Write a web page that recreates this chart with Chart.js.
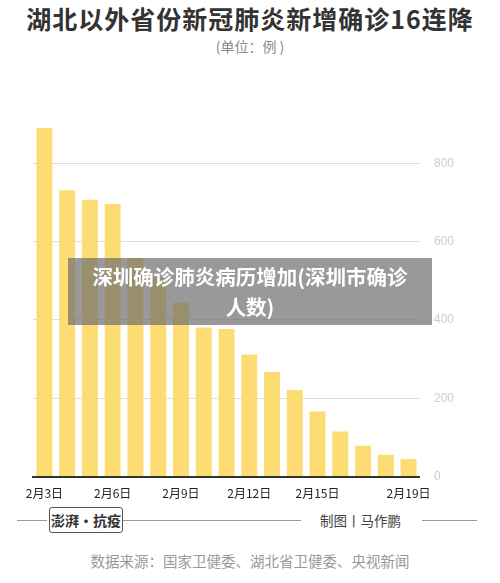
<!DOCTYPE html><html><head><meta charset="utf-8">
<script src="https://cdn.jsdelivr.net/npm/chart.js@4"></script>
<style>
body{margin:0;width:500px;height:583px;background:#fff;font-family:"Noto Sans CJK SC",sans-serif;position:relative;overflow:hidden}
.t{position:absolute;left:0;width:500px;text-align:center}
</style></head><body>
<div class="t" style="top:0px;font-size:25px;font-weight:bold;color:#333;letter-spacing:1px">湖北以外省份新冠肺炎新增确诊16连降</div>
<div class="t" style="top:36px;font-size:14px;color:#888">(单位：例 )</div>
<div style="position:absolute;left:0;top:103px;width:500px;height:400px"><canvas id="c"></canvas></div>
<div style="position:absolute;left:68px;top:258px;width:364px;height:67px;background:rgba(110,110,110,0.7);color:#fff;font-weight:bold;font-size:20.5px;text-align:center;line-height:30px;padding-top:3px;box-sizing:border-box;white-space:nowrap">深圳确诊肺炎病历增加(深圳市确诊<br>人数)</div>
<div style="position:absolute;left:17px;top:520px;width:30px;border-top:1px solid #999"></div>
<div style="position:absolute;left:49px;top:507px;width:72px;height:24px;border:1px solid #555;border-radius:3px;font-size:14px;line-height:24px;text-align:center;color:#333;font-weight:bold">澎湃·抗疫</div>
<div style="position:absolute;left:123px;top:520px;width:178px;border-top:1px solid #999"></div>
<div style="position:absolute;left:320px;top:510px;font-size:13.5px;color:#444">制图丨马作鹏</div>
<div style="position:absolute;left:422px;top:520px;width:55px;border-top:1px solid #999"></div>
<div class="t" style="top:550px;font-size:14.5px;color:#999">数据来源：国家卫健委、湖北省卫健委、央视新闻</div>
<script>
const categories=['2月3日','2月4日','2月5日','2月6日','2月7日','2月8日','2月9日','2月10日','2月11日','2月12日','2月13日','2月14日','2月15日','2月16日','2月17日','2月18日','2月19日'];
const shownLabels=['2月3日','2月6日','2月9日','2月12日','2月15日','2月19日'];
const values=[890,731,707,696,558,509,444,381,377,312,267,221,166,115,79,56,45];
const yTicks=[0,200,400,600,800];
new Chart(document.getElementById('c'),{type:'bar',
data:{labels:categories,datasets:[{data:values,backgroundColor:'#FDDC74',categoryPercentage:0.7,barPercentage:1}]},
options:{animation:false,responsive:true,maintainAspectRatio:false,
layout:{padding:{left:33,right:32,top:10,bottom:0}},
plugins:{legend:{display:false},tooltip:{enabled:false}},
scales:{
x:{grid:{display:false},border:{color:'#333',width:2},
ticks:{autoSkip:false,maxRotation:0,color:'#222',font:{size:12,family:'Noto Sans CJK SC'},padding:2,
callback:function(v){const l=categories[v];return shownLabels.includes(l)?l:'';}}},
y:{position:'right',min:0,max:900,
afterBuildTicks:s=>{s.ticks=yTicks.map(v=>({value:v}));},
grid:{color:c=>c.tick&&c.tick.value===0?'rgba(0,0,0,0)':'#ddd',borderDash:[1,2],drawTicks:false},
border:{display:false},
ticks:{color:'#ccc',font:{size:12},padding:14}}}}});
</script></body></html>
